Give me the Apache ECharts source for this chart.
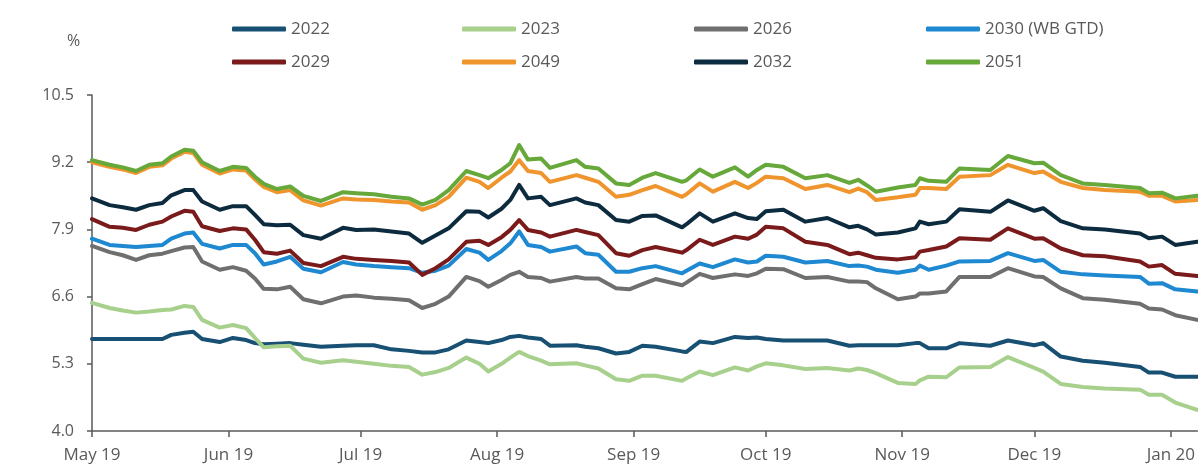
<!DOCTYPE html>
<html>
<head>
<meta charset="utf-8">
<script src="https://cdn.jsdelivr.net/npm/echarts@6/dist/echarts.min.js"></script>
<style>
  html, body { margin: 0; padding: 0; background: #ffffff; }
  #chart { width: 1198px; height: 469px; }
</style>
</head>
<body>
<div id="chart"></div>
<script>
// Observation dates (sampled trading days)
const dates = ['2019-05-01','2019-05-05','2019-05-08','2019-05-11','2019-05-14','2019-05-17','2019-05-19','2019-05-22','2019-05-24','2019-05-26','2019-05-30',
  '2019-06-02','2019-06-05','2019-06-07','2019-06-09','2019-06-12','2019-06-15','2019-06-18','2019-06-22','2019-06-27','2019-06-30',
  '2019-07-04','2019-07-08','2019-07-12','2019-07-15','2019-07-18','2019-07-21','2019-07-25','2019-07-28','2019-07-30',
  '2019-08-02','2019-08-04','2019-08-06','2019-08-08','2019-08-11','2019-08-13','2019-08-19','2019-08-21','2019-08-24','2019-08-28','2019-08-31',
  '2019-09-03','2019-09-06','2019-09-12','2019-09-13','2019-09-16','2019-09-19','2019-09-24','2019-09-27','2019-09-29',
  '2019-10-01','2019-10-05','2019-10-10','2019-10-15','2019-10-20','2019-10-22','2019-10-24','2019-10-26','2019-10-31',
  '2019-11-04','2019-11-05','2019-11-07','2019-11-11','2019-11-14','2019-11-21','2019-11-25',
  '2019-12-01','2019-12-03','2019-12-07','2019-12-12','2019-12-17','2019-12-25','2019-12-27','2019-12-30',
  '2020-01-02','2020-01-07'];

// Bond yields, %
const y2022 = [5.78,5.78,5.78,5.78,5.78,5.78,5.86,5.90,5.92,5.78,
  5.72,5.80,5.76,5.70,5.68,5.69,5.70,5.67,5.63,5.65,
  5.66,5.66,5.58,5.55,5.52,5.52,5.58,5.75,5.72,5.70,
  5.76,5.82,5.84,5.81,5.78,5.65,5.66,5.63,5.60,5.50,
  5.53,5.65,5.63,5.54,5.53,5.73,5.70,5.82,5.80,5.81,
  5.78,5.75,5.75,5.75,5.65,5.66,5.66,5.66,5.66,5.70,
  5.70,5.60,5.60,5.70,5.65,5.75,5.66,5.70,5.44,5.36,
  5.32,5.24,5.13,5.13,5.05,5.05];
const y2023 = [6.48,6.38,6.33,6.29,6.31,6.34,6.35,6.42,6.40,6.15,
  6.00,6.05,5.99,5.80,5.62,5.64,5.65,5.40,5.32,5.37,
  5.34,5.30,5.26,5.24,5.09,5.14,5.22,5.42,5.30,5.15,
  5.30,5.42,5.53,5.45,5.36,5.29,5.31,5.27,5.21,5.00,
  4.97,5.07,5.07,4.97,5.02,5.15,5.08,5.23,5.17,5.25,
  5.31,5.27,5.20,5.22,5.17,5.21,5.18,5.12,4.93,4.91,
  4.98,5.05,5.04,5.23,5.24,5.43,5.22,5.15,4.91,4.85,
  4.82,4.80,4.70,4.70,4.55,4.41];
const y2026 = [7.58,7.46,7.40,7.31,7.40,7.43,7.48,7.55,7.56,7.28,
  7.12,7.17,7.10,6.95,6.75,6.74,6.79,6.55,6.47,6.60,
  6.62,6.58,6.56,6.53,6.38,6.46,6.60,6.98,6.90,6.79,
  6.92,7.02,7.08,6.98,6.96,6.89,6.98,6.95,6.95,6.76,
  6.74,6.84,6.94,6.82,6.87,7.04,6.96,7.03,7.00,7.05,
  7.14,7.13,6.96,6.98,6.89,6.89,6.88,6.76,6.55,6.60,
  6.66,6.66,6.70,6.98,6.98,7.15,6.99,6.98,6.76,6.57,
  6.54,6.46,6.37,6.35,6.24,6.15];
const y2030 = [7.72,7.60,7.58,7.56,7.58,7.60,7.72,7.82,7.84,7.62,
  7.53,7.60,7.60,7.44,7.22,7.28,7.37,7.14,7.07,7.27,
  7.22,7.19,7.17,7.15,7.06,7.10,7.20,7.52,7.45,7.31,
  7.48,7.63,7.86,7.60,7.56,7.47,7.57,7.44,7.41,7.08,
  7.08,7.15,7.19,7.05,7.10,7.24,7.17,7.32,7.26,7.28,
  7.39,7.37,7.26,7.29,7.19,7.20,7.18,7.12,7.06,7.12,
  7.20,7.12,7.20,7.28,7.29,7.44,7.29,7.31,7.08,7.03,
  7.01,6.98,6.85,6.86,6.74,6.70];
const y2029 = [8.10,7.95,7.93,7.89,7.99,8.05,8.15,8.26,8.24,7.96,
  7.87,7.92,7.90,7.70,7.46,7.43,7.49,7.25,7.19,7.37,
  7.33,7.31,7.29,7.26,7.02,7.15,7.32,7.66,7.68,7.60,
  7.75,7.89,8.08,7.89,7.84,7.76,7.89,7.85,7.79,7.44,
  7.39,7.50,7.56,7.45,7.50,7.70,7.60,7.76,7.72,7.80,
  7.95,7.92,7.66,7.60,7.42,7.45,7.40,7.35,7.32,7.36,
  7.47,7.50,7.57,7.73,7.70,7.92,7.72,7.73,7.53,7.40,
  7.38,7.28,7.18,7.21,7.04,7.00];
const y2049 = [9.20,9.11,9.06,8.99,9.11,9.14,9.27,9.40,9.38,9.15,
  8.98,9.06,9.04,8.87,8.72,8.62,8.66,8.46,8.36,8.50,
  8.48,8.47,8.44,8.42,8.28,8.37,8.53,8.90,8.82,8.70,
  8.90,9.02,9.24,9.03,8.99,8.82,8.95,8.90,8.82,8.53,
  8.57,8.66,8.74,8.53,8.58,8.79,8.63,8.82,8.70,8.80,
  8.92,8.89,8.68,8.76,8.62,8.69,8.62,8.47,8.52,8.57,
  8.70,8.70,8.68,8.92,8.95,9.15,8.99,9.02,8.82,8.70,
  8.66,8.63,8.55,8.55,8.44,8.47];
const y2032 = [8.50,8.37,8.33,8.28,8.37,8.41,8.56,8.66,8.66,8.44,
  8.28,8.35,8.35,8.18,8.00,7.98,7.99,7.79,7.72,7.93,
  7.89,7.90,7.86,7.82,7.64,7.78,7.92,8.25,8.24,8.13,
  8.30,8.47,8.76,8.50,8.53,8.37,8.50,8.42,8.37,8.08,
  8.05,8.16,8.17,7.94,8.00,8.21,8.05,8.21,8.12,8.10,
  8.25,8.28,8.05,8.12,7.94,7.97,7.90,7.80,7.84,7.92,
  8.05,8.00,8.05,8.29,8.24,8.46,8.26,8.31,8.06,7.92,
  7.90,7.82,7.73,7.76,7.60,7.66];
const y2051 = [9.24,9.15,9.10,9.03,9.15,9.18,9.31,9.44,9.42,9.20,
  9.03,9.11,9.09,8.92,8.78,8.68,8.73,8.55,8.45,8.62,
  8.60,8.58,8.53,8.50,8.38,8.47,8.66,9.03,8.95,8.89,
  9.05,9.18,9.53,9.25,9.27,9.09,9.24,9.11,9.08,8.79,
  8.76,8.90,8.99,8.82,8.85,9.06,8.92,9.10,8.92,9.05,
  9.15,9.11,8.89,8.95,8.80,8.86,8.75,8.63,8.71,8.76,
  8.89,8.84,8.82,9.08,9.05,9.32,9.18,9.19,8.95,8.79,
  8.76,8.70,8.60,8.61,8.50,8.55];

// Series names (legend labels)
const names = ['2022', '2023', '2026', '2030 (WB GTD)', '2029', '2049', '2032', '2051'];
const values = [y2022, y2023, y2026, y2030, y2029, y2049, y2032, y2051];
const colors = ['#175073', '#a8d08d', '#6f6f6f', '#1e88d0', '#7b1a1a', '#f0952d', '#0d2b3e', '#67a83a'];

// Y-axis scale
const yMin = 4.0, yMax = 10.5, yStep = 1.3;
const xStart = '2019-05-01', xEnd = '2020-01-07';
const monthNames = ['Jan','Feb','Mar','Apr','May','Jun','Jul','Aug','Sep','Oct','Nov','Dec'];

const textColor = '#595959';
const fontFamily = '"Open Sans", "Noto Sans", sans-serif';

const series = names.map((n, i) => ({
  name: n,
  type: 'line',
  data: dates.map((d, j) => [d, values[i][j]]),
  showSymbol: false,
  symbol: 'none',
  color: colors[i],
  lineStyle: { width: 4, color: colors[i], cap: 'round', join: 'round' },
  emphasis: { disabled: true },
  animation: false
}));

// Legend: four columns, two rows each
const legendColumns = [
  { left: 232, data: ['2022', '2029'] },
  { left: 462, data: ['2023', '2049'] },
  { left: 694, data: ['2026', '2032'] },
  { left: 926, data: ['2030 (WB GTD)', '2051'] }
];
const legends = legendColumns.map(c => ({
  orient: 'vertical',
  left: c.left,
  top: 19,
  padding: 0,
  data: c.data,
  icon: 'roundRect',
  itemWidth: 54,
  itemHeight: 5,
  itemGap: 13,
  itemTextGap: 3,
  selectedMode: false,
  textStyle: { color: textColor, fontSize: 17, fontFamily: fontFamily, lineHeight: 20 }
}));

const chart = echarts.init(document.getElementById('chart'), null, { renderer: 'canvas' });
chart.setOption({
  backgroundColor: '#ffffff',
  animation: false,
  legend: legends,
  grid: { left: 92, right: 0, top: 95, bottom: 38, containLabel: false },
  graphic: [{
    type: 'text', left: 67, top: 33,
    style: { text: '%', fill: textColor, fontSize: 16, fontFamily: fontFamily }
  }],
  xAxis: {
    type: 'time',
    min: xStart,
    max: xEnd,
    splitNumber: 9,
    axisLine: { lineStyle: { color: textColor, width: 1.5 } },
    axisTick: { show: true, inside: false, length: 6, lineStyle: { color: textColor, width: 1.5 } },
    splitLine: { show: false },
    axisLabel: {
      color: textColor, fontSize: 17, fontFamily: fontFamily, margin: 16,
      formatter: function (val) {
        const d = new Date(val);
        return monthNames[d.getMonth()] + ' ' + String(d.getFullYear()).slice(2);
      }
    }
  },
  yAxis: {
    type: 'value',
    min: yMin,
    max: yMax,
    interval: yStep,
    axisLine: { show: true, lineStyle: { color: textColor, width: 1.5 } },
    axisTick: { show: true, inside: false, length: 5, lineStyle: { color: textColor, width: 1.5 } },
    splitLine: { show: false },
    axisLabel: {
      color: textColor, fontSize: 16, fontFamily: fontFamily, margin: 18,
      formatter: v => v.toFixed(1)
    }
  },
  series: series
});
</script>
</body>
</html>
